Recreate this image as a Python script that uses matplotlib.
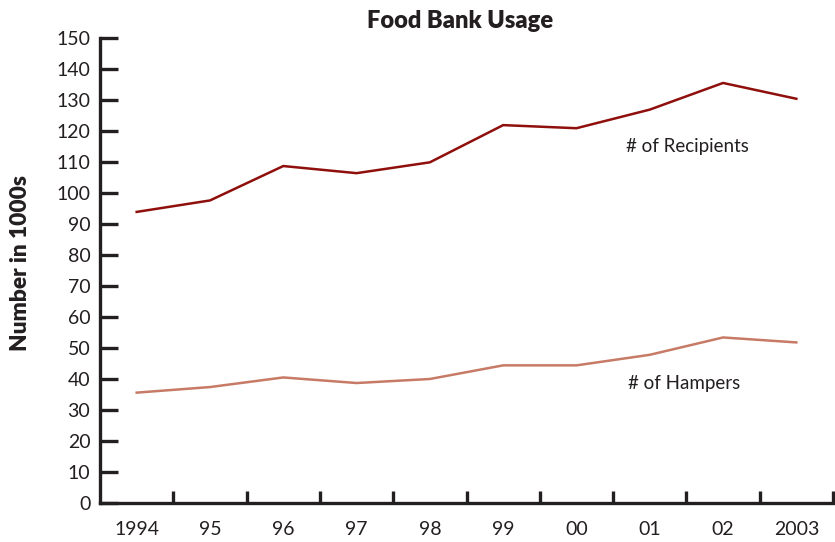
import matplotlib
matplotlib.use("Agg")
import matplotlib.pyplot as plt
import numpy as np

# data (thousands)
years = ["1994", "95", "96", "97", "98", "99", "00", "01", "02", "2003"]
recipients = [94, 97.7, 108.8, 106.5, 110, 122, 121, 127, 135.6, 130.5]
hampers = [35.7, 37.5, 40.6, 38.8, 40.1, 44.5, 44.5, 47.9, 53.5, 51.9]
y_ticks = list(range(0, 151, 10))

plt.rcParams['font.family'] = ['Lato', 'DejaVu Sans']
axis_col = '#231f20'
text_col = '#231f20'

fig = plt.figure(figsize=(8.35, 5.42), dpi=100)
ax = fig.add_axes([0.1198, 0.0714, 0.8778, 0.8579])

x = np.arange(len(years)) + 0.5
ax.plot(x, recipients, color='#8e0f0c', lw=1.8, solid_joinstyle='miter')
ax.plot(x, hampers, color='#c77a66', lw=1.8, solid_joinstyle='miter')

ax.set_xlim(0, len(years))
ax.set_ylim(0, 150)

# category labels in the middle, tick marks on the boundaries
ax.set_xticks(x)
ax.set_xticklabels(years, fontsize=14, color=text_col)
ax.tick_params(axis='x', which='major', length=0, pad=13)
ax.set_xticks(np.arange(1, len(years) + 1), minor=True)
ax.tick_params(axis='x', which='minor', direction='in', length=8.5, width=2.4, color=axis_col)

ax.set_yticks(y_ticks)
ax.set_yticklabels([str(v) for v in y_ticks], fontsize=14, color=text_col)
ax.tick_params(axis='y', direction='in', length=13, width=2.4, color=axis_col, pad=7)

for side in ['top', 'right']:
    ax.spines[side].set_visible(False)
for side in ['left', 'bottom']:
    ax.spines[side].set_linewidth(2.4)
    ax.spines[side].set_color(axis_col)
    ax.spines[side].set_capstyle('projecting')

ax.text(7.18, 115, "# of Recipients", fontsize=13.5, color=text_col, ha='left', va='center')
ax.text(7.2, 38.8, "# of Hampers", fontsize=13.5, color=text_col, ha='left', va='center')

fig.text(0.551, 0.962, "Food Bank Usage", fontsize=17, fontweight='heavy',
         color=text_col, ha='center', va='center')
fig.text(0.025, 0.515, "Number in 1000s", fontsize=16.3, fontweight='heavy',
         color=text_col, ha='center', va='center', rotation=90)

fig.savefig("out.png", dpi=100)
